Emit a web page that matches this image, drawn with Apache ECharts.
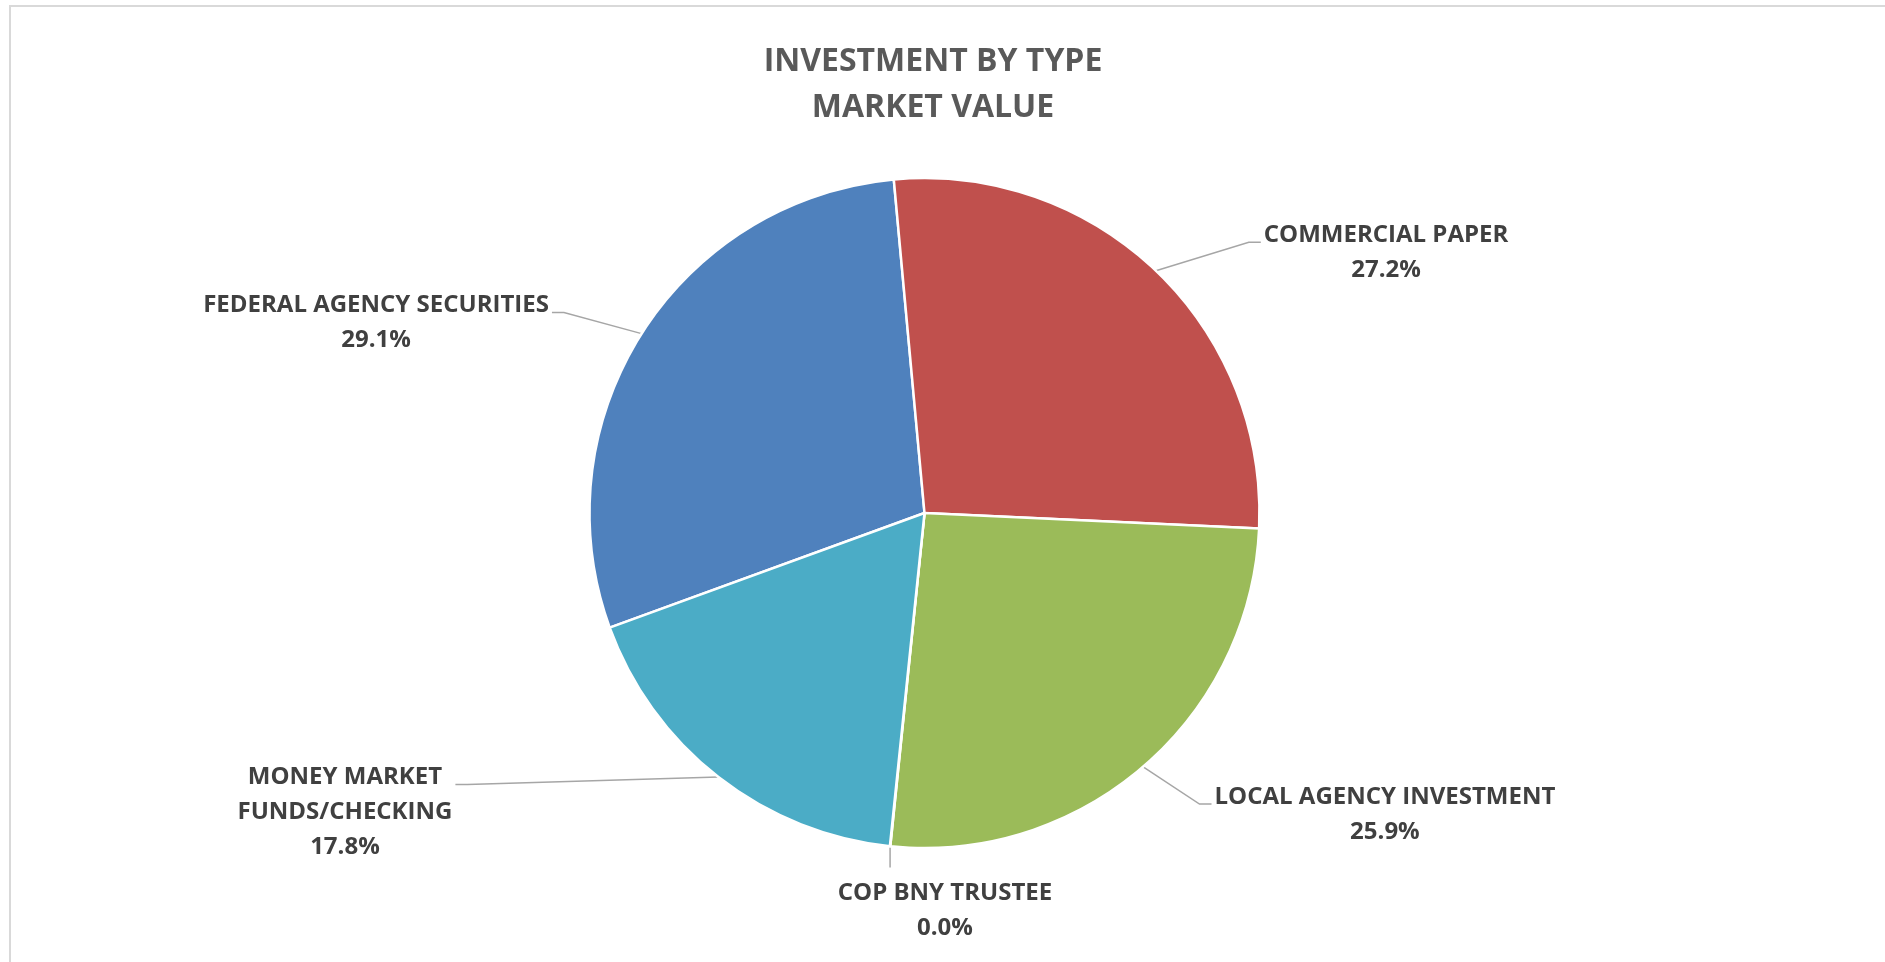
<!DOCTYPE html>
<html>
<head>
<meta charset="utf-8">
<script src="https://cdn.jsdelivr.net/npm/echarts@6/dist/echarts.min.js"></script>
<style>
  html, body { margin: 0; padding: 0; background: #ffffff; }
  #chart { width: 1885px; height: 962px; }
</style>
</head>
<body>
<div id="chart"></div>
<script>
// Portfolio mix by investment type (percent of market value)
const categories = [
  'FEDERAL AGENCY SECURITIES',
  'COMMERCIAL PAPER',
  'LOCAL AGENCY INVESTMENT',
  'COP BNY TRUSTEE',
  'MONEY MARKET\nFUNDS/CHECKING'
];
const shares = [29.1, 27.2, 25.9, 0.02, 17.8];
const sliceColors = ['#4F81BD', '#C0504D', '#9BBB59', '#8064A2', '#4BACC6'];
const titleLines = ['INVESTMENT BY TYPE', 'MARKET VALUE'];

// Where each label block is centred, as fractions of the canvas
const labelCentres = [
  [0.1995, 0.3358],
  [0.7353, 0.2628],
  [0.7347, 0.8468],
  [0.5013, 0.9465],
  [0.1830, 0.8445]
];

const W = 1885, H = 962;
const pieCx = 924.5, pieCy = 513;
const pieR = 335;
const startAngle = 200;            // ECharts angle (counter-clockwise from 3 o'clock)
const lineH = 35;
const total = shares.reduce((a, b) => a + b, 0);

// Mid-angle of a slice, measured clockwise from 12 o'clock, in degrees
function midAngle(i) {
  let before = 0;
  for (let k = 0; k < i; k++) before += shares[k];
  const theta0 = 90 - startAngle;
  return theta0 + (before + shares[i] / 2) / total * 360;
}

function pct(v) {
  return (v / total * 100).toFixed(1) + '%';
}

const chart = echarts.init(document.getElementById('chart'), null, { renderer: 'canvas' });

chart.setOption({
  backgroundColor: '#ffffff',
  animation: false,
  graphic: [
    {
      type: 'rect',
      silent: true,
      shape: { x: 10, y: 6, width: 2400, height: 2400 },
      style: { fill: 'none', stroke: '#d9d9d9', lineWidth: 2 }
    },
    {
      type: 'text',
      silent: true,
      x: 933,
      y: 39,
      style: {
        text: titleLines.join('\n'),
        align: 'center',
        verticalAlign: 'top',
        fontFamily: 'Open Sans',
        fontWeight: 'bold',
        fontSize: 32,
        lineHeight: 46,
        fill: '#595959'
      }
    }
  ],
  series: [{
    type: 'pie',
    center: [pieCx, pieCy],
    radius: pieR,
    startAngle: startAngle,
    clockwise: true,
    avoidLabelOverlap: false,
    stillShowZeroSum: true,
    minShowLabelAngle: 0,
    itemStyle: { borderColor: '#ffffff', borderWidth: 2.5 },
    emphasis: { disabled: true },
    label: {
      show: true,
      position: 'outside',
      fontFamily: 'Open Sans',
      fontWeight: 'bold',
      fontSize: 24,
      lineHeight: lineH,
      color: '#404040',
      align: 'center',
      formatter: p => p.name + '\n' + pct(p.value)
    },
    labelLine: {
      show: true,
      smooth: false,
      lineStyle: { color: '#a6a6a6', width: 1.5 }
    },
    labelLayout: function (params) {
      const i = params.dataIndex;
      const w = params.labelRect.width;
      const h = params.labelRect.height;
      const lx = labelCentres[i][0] * W;
      const ly = labelCentres[i][1] * H;
      const th = midAngle(i) * Math.PI / 180;
      const ax = pieCx + pieR * Math.sin(th);
      const ay = pieCy - pieR * Math.cos(th);
      const top = ly - h / 2;
      let pts;
      if (Math.abs(lx - pieCx) < w / 2) {
        // label sits under the pie: straight drop from the rim
        pts = [[ax, ay], [ax, (ay + top - 8) / 2], [ax, top - 8]];
      } else {
        const right = lx > pieCx;
        const ey = top + lineH / 2 + 7;
        const ex = right ? lx - w / 2 - 3 : lx + w / 2 + 3;
        const bx = right ? ex - 12 : ex + 12;
        pts = [[ax, ay], [bx, ey], [ex, ey]];
      }
      return {
        x: lx,
        y: ly,
        align: 'center',
        verticalAlign: 'middle',
        labelLinePoints: pts
      };
    },
    data: categories.map((name, i) => ({
      name: name,
      value: shares[i],
      itemStyle: { color: sliceColors[i] }
    }))
  }]
});
</script>
</body>
</html>
